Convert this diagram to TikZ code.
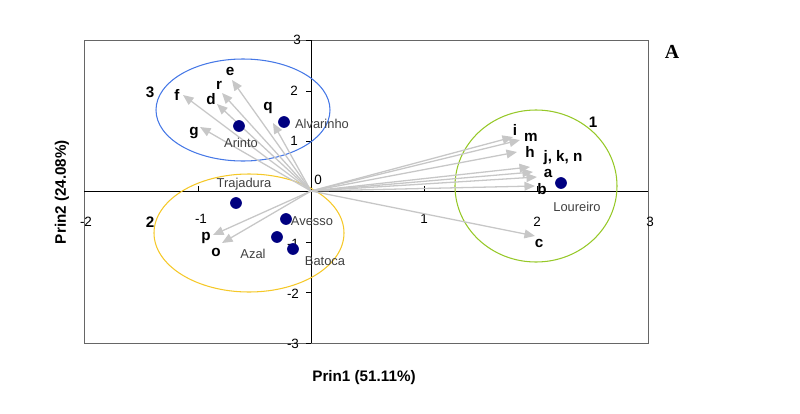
\documentclass[tikz,border=0pt]{standalone}
\usepackage{fontspec}
\setmainfont{Liberation Sans}
\usetikzlibrary{arrows.meta}
\begin{document}
\begin{tikzpicture}[x=0.03cm,y=-0.03cm,
 vec/.style={draw=black!22,line width=1.1pt,-{Triangle[length=9pt,width=7.5pt]}},
 lab/.style={font=\bfseries\fontsize{13}{13}\selectfont,inner sep=1pt},
 cult/.style={font=\fontsize{11}{11}\selectfont,text=black!75},
 dot/.style={circle,fill=blue!50!black,inner sep=0,minimum size=10pt},
 tick/.style={font=\fontsize{11.5}{11.5}\selectfont}]
\useasboundingbox (0,0) rectangle (800,414);
\draw[black!60] (84,40) rectangle (648,343);
\draw[line width=0.8pt] (84,191) -- (648,191);
\draw[line width=0.8pt] (311,40) -- (311,343);
\foreach \x in {198,424,537} \draw (\x,191) -- (\x,186);
\foreach \y in {40,91,141,242,292,343} \draw (311,\y) -- (306,\y);
\node[tick] (t3) at (297,40) {3};
\node[tick] (t2) at (294,91) {2};
\node[tick] (t1) at (294,141) {1};
\node[tick] (t0) at (318,180) {0};
\node[tick] (tm1) at (293,244) {-1};
\node[tick] (tm2) at (293,294) {-2};
\node[tick] (tm3) at (293,344) {-3};
\node[tick] (xm2) at (86,222) {-2};
\node[tick] (xm1) at (201,219) {-1};
\node[tick] (x1) at (424,219) {1};
\node[tick] (x2) at (537,222) {2};
\node[tick] (x3) at (650,222) {3};
\node[lab] (s3) at (150,92) {3};
\node[lab] (s2) at (150,222) {2};
\node[lab] (s1) at (593,122) {1};
\coordinate (O) at (311,191);
\draw[draw={rgb,255:red,70;green,120;blue,230},line width=0.9pt] (243,110) ellipse (87 and 51);
\draw[draw={rgb,255:red,245;green,200;blue,40},line width=0.9pt] (249,233) ellipse (95 and 59);
\draw[draw={rgb,255:red,150;green,200;blue,40},line width=0.9pt] (536,186) ellipse (81 and 76);
\foreach \p in {(183,95),(232,80),(222,93),(217,104),(200,127),(273,123),(213,235),(222,243),(513,137),(520,140),(517,152),(530,167),(533,172),(537,177),(535,186),(535,236)}
  \draw[vec] (O) -- \p;
\node[lab] (f) at (177,95) {f};
\node[lab] (e) at (230,71) {e};
\node[lab] (r) at (219,85) {r};
\node[lab] (d) at (211,99) {d};
\node[lab] (g) at (194,133) {g};
\node[lab] (q) at (268,108) {q};
\node[lab] (p) at (206,238) {p};
\node[lab] (o) at (216,252) {o};
\node[lab] (i) at (515,130) {i};
\node[lab] (m) at (531,137) {m};
\node[lab] (h) at (530,152) {h};
\node[lab] (jkn) at (563,158) {j, k, n};
\node[lab] (a) at (548,173) {a};
\node[lab] (b) at (542,189) {b};
\node[lab] (c) at (539,243) {c};
\node[dot] (Ar) at (239,126) {};
\node[dot] (Al) at (284,122) {};
\node[dot] (Tr) at (236,203) {};
\node[dot] (Av) at (286,219) {};
\node[dot] (Az) at (277,237) {};
\node[dot] (Ba) at (293,249) {};
\node[dot] (Lo) at (561,183) {};
\node[cult] (lAl) at (322,124) {Alvarinho};
\node[cult] (lAr) at (241,143) {Arinto};
\node[cult] (lTr) at (244,184) {Trajadura};
\node[cult] (lAv) at (312,221) {Avesso};
\node[cult] (lAz) at (253,254) {Azal};
\node[cult] (lBa) at (325,261) {Batoca};
\node[cult] (lLo) at (577,207) {Loureiro};
\node[font=\bfseries\fontsize{17}{17}\selectfont] (A) at (672,52) {\fontspec{Liberation Serif}A};
\node[font=\bfseries\fontsize{13}{13}\selectfont] (xl) at (364,378) {Prin1 (51.11\%)};
\node[font=\bfseries\fontsize{13}{13}\selectfont,rotate=90] (yl) at (62,192) {Prin2 (24.08\%)};
\end{tikzpicture}
\end{document}
